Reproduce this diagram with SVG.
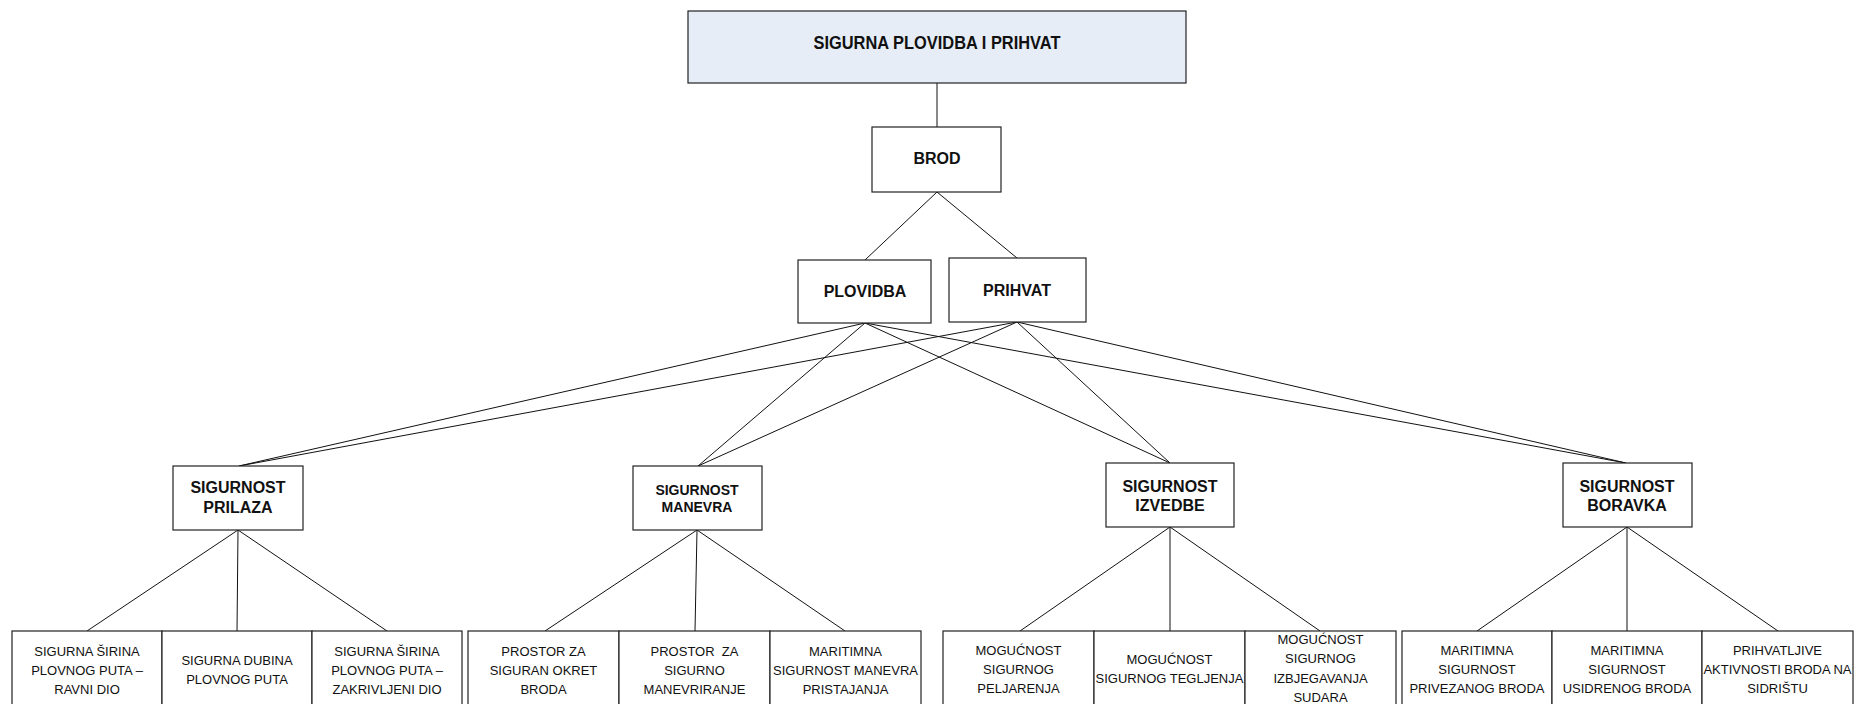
<svg xmlns="http://www.w3.org/2000/svg" width="1856" height="704" viewBox="0 0 1856 704">
<style>
.box{fill:#ffffff;stroke:#222;stroke-width:1.2}
.root{fill:#E6EDF7;stroke:#222;stroke-width:1.2}
.b{font-family:"Liberation Sans",Arial,sans-serif;font-weight:bold;font-size:16px;fill:#111;text-anchor:middle}
.b14{font-size:14px}
.title{font-size:18px}
.t{font-family:"Liberation Sans",Arial,sans-serif;font-size:13px;fill:#111;text-anchor:middle}
.c line{stroke:#111;stroke-width:1}
</style>
<rect width="1856" height="704" fill="#fff"/>
<g class="c" id="connectors">
<line x1="937" y1="83" x2="937" y2="127"/>
<line x1="937" y1="192" x2="865" y2="260"/>
<line x1="937" y1="192" x2="1017" y2="258"/>
<line x1="865" y1="323" x2="239" y2="466"/>
<line x1="865" y1="323" x2="698" y2="466"/>
<line x1="865" y1="323" x2="1170" y2="463"/>
<line x1="865" y1="323" x2="1626" y2="463"/>
<line x1="1017" y1="322" x2="239" y2="466"/>
<line x1="1017" y1="322" x2="698" y2="466"/>
<line x1="1017" y1="322" x2="1170" y2="463"/>
<line x1="1017" y1="322" x2="1626" y2="463"/>
<line x1="238" y1="530" x2="87" y2="631"/>
<line x1="238" y1="530" x2="237" y2="631"/>
<line x1="238" y1="530" x2="387" y2="631"/>
<line x1="697" y1="530" x2="545" y2="631"/>
<line x1="697" y1="530" x2="695" y2="631"/>
<line x1="697" y1="530" x2="845" y2="631"/>
<line x1="1170" y1="527" x2="1020" y2="631"/>
<line x1="1170" y1="527" x2="1170" y2="631"/>
<line x1="1170" y1="527" x2="1320" y2="631"/>
<line x1="1627" y1="527" x2="1477" y2="631"/>
<line x1="1627" y1="527" x2="1627" y2="631"/>
<line x1="1627" y1="527" x2="1778" y2="631"/>
</g>
<g id="root"><rect class="root" x="688" y="11" width="498" height="72"/><text class="b title" x="937" y="49" textLength="247" lengthAdjust="spacingAndGlyphs">SIGURNA PLOVIDBA I PRIHVAT</text></g>
<g id="brod"><rect class="box" x="872" y="127" width="129" height="65"/><text class="b" x="937" y="164">BROD</text></g>
<g id="plovidba"><rect class="box" x="798" y="260" width="133" height="63"/><text class="b" x="865" y="297">PLOVIDBA</text></g>
<g id="prihvat"><rect class="box" x="949" y="258" width="137" height="64"/><text class="b" x="1017" y="296">PRIHVAT</text></g>
<g id="prilaza"><rect class="box" x="173" y="466" width="130" height="64"/><text class="b" x="238" y="493">SIGURNOST</text><text class="b" x="238" y="513">PRILAZA</text></g>
<g id="manevra"><rect class="box" x="633" y="466" width="129" height="64"/><text class="b b14" x="697" y="495">SIGURNOST</text><text class="b b14" x="697" y="512">MANEVRA</text></g>
<g id="izvedbe"><rect class="box" x="1106" y="463" width="128" height="64"/><text class="b" x="1170" y="492">SIGURNOST</text><text class="b" x="1170" y="511">IZVEDBE</text></g>
<g id="boravka"><rect class="box" x="1563" y="463" width="129" height="64"/><text class="b" x="1627" y="492">SIGURNOST</text><text class="b" x="1627" y="511">BORAVKA</text></g>

<g id="leaf1"><rect class="box" x="12" y="631" width="150" height="82"/><text class="t" x="87" y="656">SIGURNA ŠIRINA</text><text class="t" x="87" y="675">PLOVNOG PUTA –</text><text class="t" x="87" y="694">RAVNI DIO</text></g>
<g id="leaf2"><rect class="box" x="162" y="631" width="150" height="82"/><text class="t" x="237" y="665">SIGURNA DUBINA</text><text class="t" x="237" y="684">PLOVNOG PUTA</text></g>
<g id="leaf3"><rect class="box" x="312" y="631" width="150" height="82"/><text class="t" x="387" y="656">SIGURNA ŠIRINA</text><text class="t" x="387" y="675">PLOVNOG PUTA –</text><text class="t" x="387" y="694">ZAKRIVLJENI DIO</text></g>

<g id="leaf4"><rect class="box" x="468" y="631" width="151" height="82"/><text class="t" x="543.5" y="656">PROSTOR ZA</text><text class="t" x="543.5" y="675">SIGURAN OKRET</text><text class="t" x="543.5" y="694">BRODA</text></g>
<g id="leaf5"><rect class="box" x="619" y="631" width="151" height="82"/><text class="t" x="694.5" y="656" style="white-space:pre">PROSTOR  ZA</text><text class="t" x="694.5" y="675">SIGURNO</text><text class="t" x="694.5" y="694">MANEVRIRANJE</text></g>
<g id="leaf6"><rect class="box" x="770" y="631" width="151" height="82"/><text class="t" x="845.5" y="656">MARITIMNA</text><text class="t" x="845.5" y="675">SIGURNOST MANEVRA</text><text class="t" x="845.5" y="694">PRISTAJANJA</text></g>

<g id="leaf7"><rect class="box" x="943" y="631" width="151" height="82"/><text class="t" x="1018.5" y="655">MOGUĆNOST</text><text class="t" x="1018.5" y="674">SIGURNOG</text><text class="t" x="1018.5" y="693">PELJARENJA</text></g>
<g id="leaf8"><rect class="box" x="1094" y="631" width="151" height="82"/><text class="t" x="1169.5" y="664">MOGUĆNOST</text><text class="t" x="1169.5" y="683">SIGURNOG TEGLJENJA</text></g>
<g id="leaf9"><rect class="box" x="1245" y="631" width="151" height="82"/><text class="t" x="1320.5" y="644">MOGUĆNOST</text><text class="t" x="1320.5" y="663">SIGURNOG</text><text class="t" x="1320.5" y="683">IZBJEGAVANJA</text><text class="t" x="1320.5" y="702">SUDARA</text></g>

<g id="leaf10"><rect class="box" x="1402" y="631" width="150" height="82"/><text class="t" x="1477" y="655">MARITIMNA</text><text class="t" x="1477" y="674">SIGURNOST</text><text class="t" x="1477" y="693">PRIVEZANOG BRODA</text></g>
<g id="leaf11"><rect class="box" x="1552" y="631" width="150" height="82"/><text class="t" x="1627" y="655">MARITIMNA</text><text class="t" x="1627" y="674">SIGURNOST</text><text class="t" x="1627" y="693">USIDRENOG BRODA</text></g>
<g id="leaf12"><rect class="box" x="1702" y="631" width="151" height="82"/><text class="t" x="1777.5" y="655">PRIHVATLJIVE</text><text class="t" x="1777.5" y="674">AKTIVNOSTI BRODA NA</text><text class="t" x="1777.5" y="693">SIDRIŠTU</text></g>
</svg>
